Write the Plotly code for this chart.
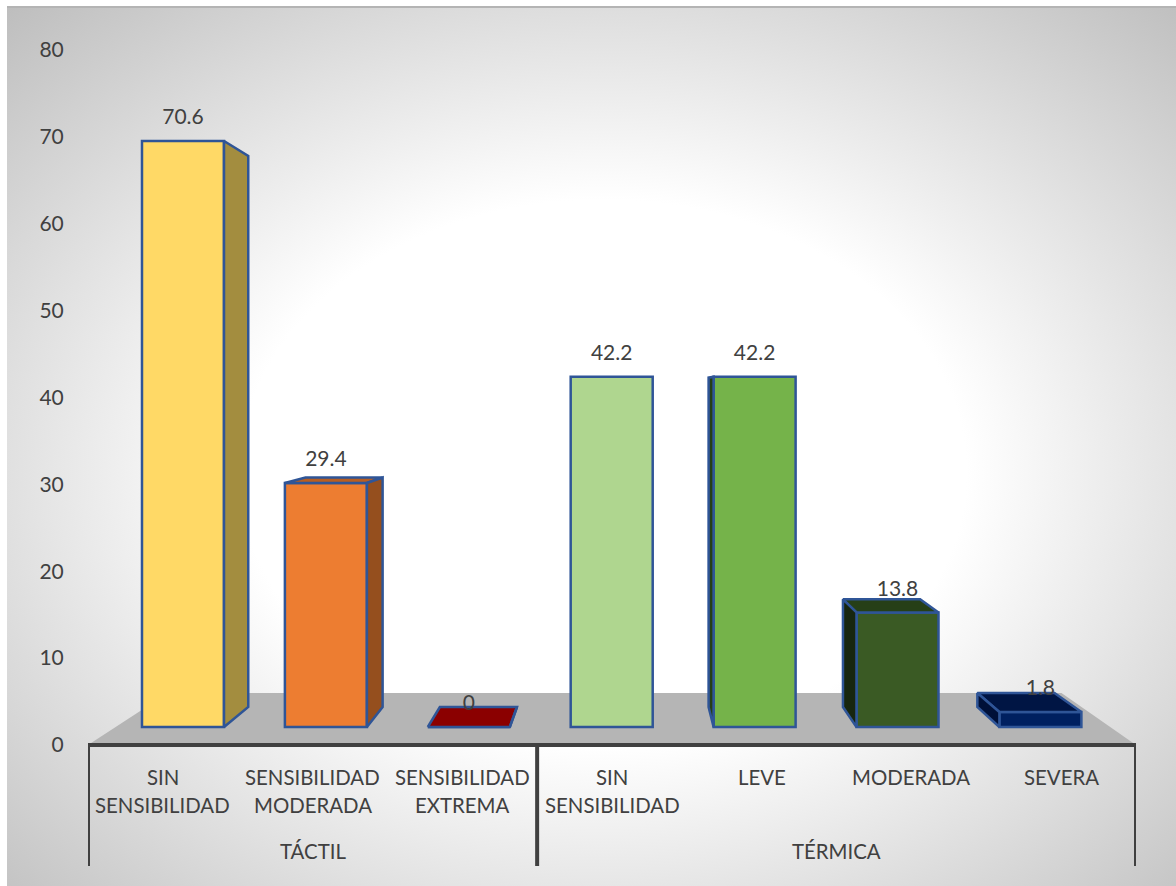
import base64
import plotly.graph_objects as go

# ---- data ----
CATEGORIES = ["SIN SENSIBILIDAD", "SENSIBILIDAD MODERADA", "SENSIBILIDAD EXTREMA",
              "SIN SENSIBILIDAD", "LEVE", "MODERADA", "SEVERA"]
LABEL_LINE_1 = ["SIN", "SENSIBILIDAD", "SENSIBILIDAD", "SIN", "LEVE", "MODERADA", "SEVERA"]
LABEL_LINE_2 = ["SENSIBILIDAD", "MODERADA", "EXTREMA", "SENSIBILIDAD", "", "", ""]
VALUES = [70.6, 29.4, 0, 42.2, 42.2, 13.8, 1.8]
VALUE_TEXT = ["70.6", "29.4", "0", "42.2", "42.2", "13.8", "1.8"]
GROUPS = ["TÁCTIL", "TÉRMICA"]
GROUP_SPANS = [(0, 2), (3, 6)]
Y_TICKS = [0, 10, 20, 30, 40, 50, 60, 70, 80]

FRONT_COLORS = ["#FFD966", "#ED7D31", "#8B0000", "#AFD68F", "#75B34A", "#3A5A24", "#002060"]
SIDE_COLORS = ["#A38D3F", "#954F1E", "#8B0000", "#AFD68F", "#263F17", "#17260F", "#001038"]
TOP_COLORS = ["#CCAE52", "#B85E22", "#8B0000", "#AFD68F", "#4F7A32", "#263F17", "#001544"]

# ---- page geometry ----
W, H = 1176, 886
LEFT, RIGHT, TOP, BOTTOM = 88, 1136, 50, 745
BG_LEFT, BG_TOP = 7, 7
FONT = "Lato"
TEXT = "#404040"
EDGE = "#2F5597"
AXIS = "#404040"
FS_NUM = 21
FS_LABEL = 20.4

# front plane of the 3-D bars: own invisible axes
FRONT_ZERO_PX, FRONT_UNIT_PX = 727, 8.3
FRONT_X0_PX, FRONT_STEP_PX = 183, 142.9
BAR_WIDTH = 0.574
DEPTH = 0.0597           # share of the way towards the vanishing point
VP_X = (630 - FRONT_X0_PX) / FRONT_STEP_PX
VP_Y = (FRONT_ZERO_PX - 392) / FRONT_UNIT_PX
LABEL_GAP = 22 / FRONT_UNIT_PX

x2_range = [(LEFT - FRONT_X0_PX) / FRONT_STEP_PX, (RIGHT - FRONT_X0_PX) / FRONT_STEP_PX]
y2_range = [(FRONT_ZERO_PX - BOTTOM) / FRONT_UNIT_PX, (FRONT_ZERO_PX - TOP) / FRONT_UNIT_PX]


def back(x, y):
    return x + (VP_X - x) * DEPTH, y + (VP_Y - y) * DEPTH


def polygon(points, color, xaxis="x2", yaxis="y2", line=EDGE, width=2.5):
    xs = [p[0] for p in points] + [points[0][0]]
    ys = [p[1] for p in points] + [points[0][1]]
    return go.Scatter(x=xs, y=ys, xaxis=xaxis, yaxis=yaxis, mode="lines", fill="toself",
                      fillcolor=color, line=dict(color=line, width=width),
                      hoverinfo="skip", showlegend=False)


fig = go.Figure()

# floor, on the axis scale
FLOOR_BACK_Y = 52 / ((BOTTOM - TOP) / 80)
vp_x_floor = (630 - LEFT) / ((RIGHT - LEFT) / 7) - 0.5
vp_y_floor = (BOTTOM - 392) / ((BOTTOM - TOP) / 80)
share = FLOOR_BACK_Y / vp_y_floor
fig.add_trace(polygon(
    [(-0.5, 0), (6.5, 0),
     (6.5 + (vp_x_floor - 6.5) * share, FLOOR_BACK_Y),
     (-0.5 + (vp_x_floor + 0.5) * share, FLOOR_BACK_Y)],
    "#B5B5B5", xaxis="x", yaxis="y", line="#B5B5B5", width=0))

# front faces
fig.add_trace(go.Bar(x=list(range(len(VALUES))), y=VALUES, width=BAR_WIDTH, xaxis="x2", yaxis="y2",
                     marker=dict(color=FRONT_COLORS, line=dict(color=EDGE, width=2.5)),
                     hovertext=CATEGORIES, showlegend=False))

# depth faces
for i, v in enumerate(VALUES):
    xl, xr = i - BAR_WIDTH / 2, i + BAR_WIDTH / 2
    if v < VP_Y:
        fig.add_trace(polygon([(xl, v), (xr, v), back(xr, v), back(xl, v)], TOP_COLORS[i]))
    if xr < VP_X:
        fig.add_trace(polygon([(xr, 0), (xr, v), back(xr, v), back(xr, 0)], SIDE_COLORS[i]))
    if xl > VP_X:
        fig.add_trace(polygon([(xl, 0), (xl, v), back(xl, v), back(xl, 0)], SIDE_COLORS[i]))

# value labels
fig.add_trace(go.Scatter(x=list(range(len(VALUES))), y=[v + LABEL_GAP for v in VALUES],
                         xaxis="x2", yaxis="y2", mode="text", text=VALUE_TEXT,
                         textposition="middle center",
                         textfont=dict(family=FONT, size=FS_NUM, color=TEXT),
                         hoverinfo="skip", showlegend=False))

annotations = []


def below(text, x, px):
    annotations.append(dict(text=text, x=x, xref="x", y=0, yref="paper", yshift=-(px - BOTTOM),
                            yanchor="middle", xanchor="center", showarrow=False,
                            font=dict(family=FONT, size=FS_LABEL, color=TEXT)))


for i in range(len(VALUES)):
    below(LABEL_LINE_1[i], i, 777)
    if LABEL_LINE_2[i]:
        below(LABEL_LINE_2[i], i, 805)
for g, (a, b) in zip(GROUPS, GROUP_SPANS):
    below(g, (a + b) / 2, 851)

shapes = []
for pos in (-0.5, 2.5, 6.5):
    shapes.append(dict(type="line", xref="x", yref="paper", x0=pos, x1=pos, y0=0,
                       y1=-(866 - BOTTOM) / (BOTTOM - TOP), line=dict(color=AXIS, width=4)))
shapes.append(dict(type="line", xref="x", yref="paper", x0=-0.5, x1=6.5, y0=0, y1=0,
                   line=dict(color=AXIS, width=4)))
shapes.append(dict(type="line", xref="paper", yref="paper",
                   x0=(BG_LEFT - LEFT) / (RIGHT - LEFT), x1=(W - LEFT) / (RIGHT - LEFT),
                   y0=(BOTTOM - BG_TOP) / (BOTTOM - TOP), y1=(BOTTOM - BG_TOP) / (BOTTOM - TOP),
                   line=dict(color="#B4B4B4", width=2)))

svg = f"""<svg xmlns='http://www.w3.org/2000/svg' width='{W - BG_LEFT}' height='{H - BG_TOP}'>
<defs><radialGradient id='g' cx='51%' cy='53%' r='74%'>
<stop offset='0' stop-color='#ffffff'/><stop offset='0.42' stop-color='#ffffff'/>
<stop offset='0.55' stop-color='#f0f0f0'/>
<stop offset='1' stop-color='#bdbdbd'/></radialGradient></defs>
<rect width='100%' height='100%' fill='url(#g)'/></svg>"""
src = "data:image/svg+xml;base64," + base64.b64encode(svg.encode()).decode()

fig.update_layout(
    width=W, height=H, margin=dict(l=LEFT, r=W - RIGHT, t=TOP, b=H - BOTTOM, pad=0),
    paper_bgcolor="white", plot_bgcolor="rgba(0,0,0,0)", showlegend=False,
    font=dict(family=FONT, size=FS_NUM, color=TEXT),
    annotations=annotations, shapes=shapes,
    images=[dict(source=src, xref="paper", yref="paper", layer="below", sizing="stretch",
                 x=(BG_LEFT - LEFT) / (RIGHT - LEFT), sizex=(W - BG_LEFT) / (RIGHT - LEFT),
                 y=(BOTTOM - BG_TOP) / (BOTTOM - TOP), sizey=(H - BG_TOP) / (BOTTOM - TOP),
                 xanchor="left", yanchor="top")],
    xaxis=dict(range=[-0.5, 6.5], showgrid=False, zeroline=False, showticklabels=False, ticks="",
               showline=False, fixedrange=True),
    yaxis=dict(range=[0, 80], tickvals=Y_TICKS, showgrid=False, zeroline=False, showline=False,
               ticks="outside", ticklen=19, tickcolor="rgba(0,0,0,0)",
               tickfont=dict(family=FONT, size=FS_NUM, color=TEXT), fixedrange=True),
    xaxis2=dict(range=x2_range, overlaying="x", visible=False, fixedrange=True),
    yaxis2=dict(range=y2_range, overlaying="y", visible=False, fixedrange=True),
)

fig.write_html("out.html", config={"displayModeBar": False},
               post_script="document.body.style.margin='0';document.body.style.overflow='hidden';")
